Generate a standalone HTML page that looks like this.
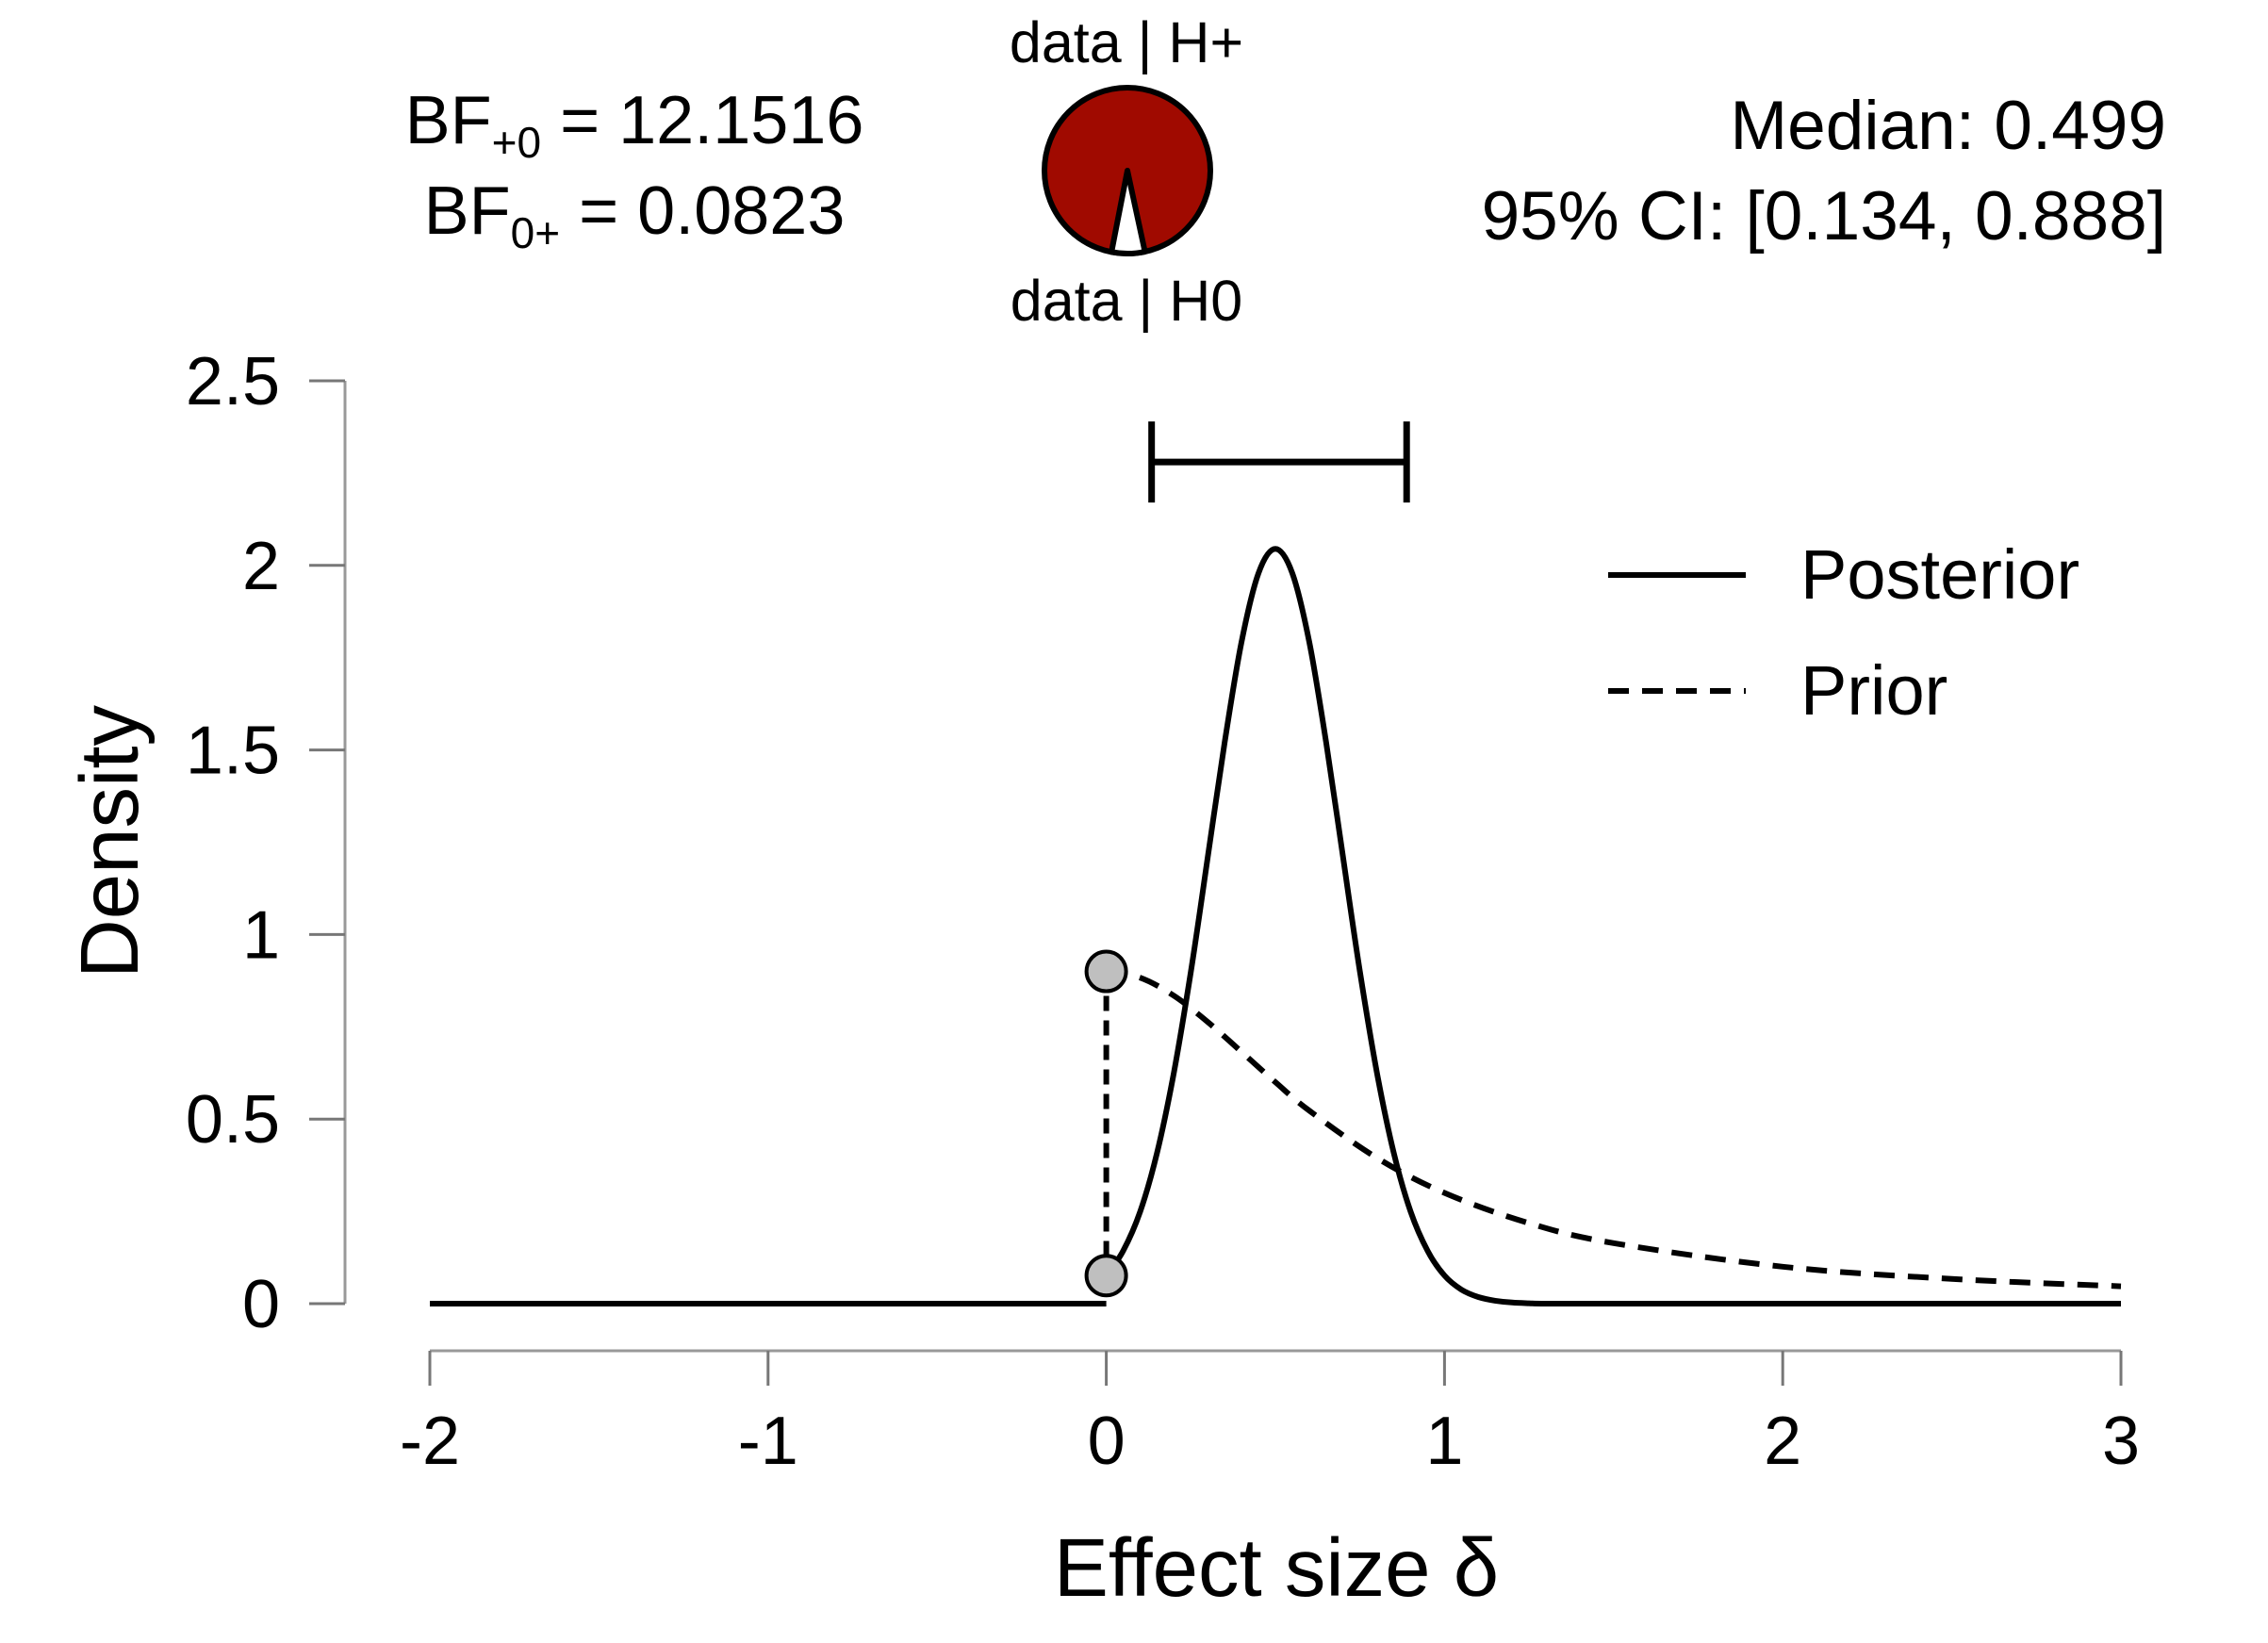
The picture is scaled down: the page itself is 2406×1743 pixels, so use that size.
<!DOCTYPE html>
<html><head><meta charset="utf-8"><style>
html,body{margin:0;padding:0;background:#fff;}
svg{display:block;font-family:"Liberation Sans",Arial,sans-serif;}
</style></head><body>
<svg id="chart" width="2406" height="1743" viewBox="0 0 2406 1743" xmlns="http://www.w3.org/2000/svg">
<rect width="2406" height="1743" fill="#fff"/>
<g id="top">
<text x="673" y="152" font-size="72" text-anchor="middle">BF<tspan font-size="46" dy="15">+0</tspan><tspan dy="-15"> = 12.1516</tspan></text>
<text x="673" y="248" font-size="72" text-anchor="middle">BF<tspan font-size="46" dy="15">0+</tspan><tspan dy="-15"> = 0.0823</tspan></text>
<text x="2298" y="158" font-size="73" text-anchor="end">Median: 0.499</text>
<text x="2298" y="254" font-size="73" text-anchor="end">95% CI: [0.134, 0.888]</text>
<text x="1195" y="66" font-size="61" text-anchor="middle">data | H+</text>
<text x="1195" y="340" font-size="61" text-anchor="middle">data | H0</text>
<g id="pie"></g>
</g>
<g id="axes"></g>
<g id="marks"></g>
<text transform="translate(146,893) rotate(-90)" font-size="87" text-anchor="middle">Density</text>
<text x="1354" y="1693" font-size="87" text-anchor="middle">Effect size δ</text>
<g>
<line x1="1706" y1="610" x2="1852" y2="610" stroke="#000" stroke-width="6"/>
<text x="1910" y="635" font-size="74">Posterior</text>
<line x1="1706" y1="733" x2="1852" y2="733" stroke="#000" stroke-width="6" stroke-dasharray="22,14"/>
<text x="1910" y="758" font-size="74">Prior</text>
</g>
</svg>
<script>
const xTicks=[-2,-1,0,1,2,3];
const yTicks=[0,0.5,1,1.5,2,2.5];
const yTickLabels=["0","0.5","1","1.5","2","2.5"];
const postX=[0,0.05,0.1,0.15,0.2,0.25,0.3,0.35,0.4,0.45,0.5,0.55,0.6,0.65,0.7,0.75,0.8,0.85,0.9,0.95,1.0,1.05,1.1,1.15,1.2,1.25,1.3,1.5,2,2.5,3];
const postY=[0.076,0.143,0.249,0.408,0.627,0.899,1.209,1.521,1.793,1.979,2.045,1.979,1.793,1.521,1.209,0.899,0.627,0.408,0.249,0.143,0.076,0.038,0.018,0.008,0.003,0.001,0,0,0,0,0];
const negX=[-2,0];
const negY=[0,0];
const priorX=[0,0.1,0.2,0.3,0.4,0.5,0.6,0.8,1.0,1.25,1.5,2,2.5,3];
const priorY=[0.90,0.883,0.834,0.763,0.682,0.600,0.523,0.395,0.300,0.218,0.164,0.100,0.067,0.047];
const ciLow=0.134, ciHigh=0.888, ciLevel=2.28;
const pointPrior=0.90, pointPost=0.076;
const bf10=12.1516;

const NS="http://www.w3.org/2000/svg";
const xs=v=>456+(v+2)*358.8;
const ys=v=>1383-v*391.6;
function mk(tag,attrs,parent){const e=document.createElementNS(NS,tag);for(const k in attrs)e.setAttribute(k,attrs[k]);parent.appendChild(e);return e;}
const axes=document.getElementById('axes'), marks=document.getElementById('marks');

let yl=mk('line',{x1:366,y1:ys(2.5),x2:366,y2:ys(0),stroke:'#999','stroke-width':3},axes);


yTicks.forEach((t,i)=>{
 let l=mk('line',{x1:328,y1:ys(t),x2:366,y2:ys(t),stroke:'#777','stroke-width':3},axes);
 
 
 let tx=mk('text',{x:297,y:ys(t)+25,'font-size':72,'text-anchor':'end'},axes);
 tx.textContent=yTickLabels[i];
 
 
});
let xl=mk('line',{x1:xs(-2),y1:1433,x2:xs(3),y2:1433,stroke:'#999','stroke-width':3},axes);


xTicks.forEach(t=>{
 let l=mk('line',{x1:xs(t),y1:1433,x2:xs(t),y2:1470,stroke:'#777','stroke-width':3},axes);
 
 
 let tx=mk('text',{x:xs(t),y:1553,'font-size':72,'text-anchor':'middle'},axes);
 tx.textContent=String(t);
 
 
});
function smooth(X,Y){
 const p=X.map((x,i)=>[xs(x),ys(Y[i])]);
 let d='M'+p[0][0]+','+p[0][1];
 for(let i=0;i<p.length-1;i++){
  const p0=p[Math.max(i-1,0)],p1=p[i],p2=p[i+1],p3=p[Math.min(i+2,p.length-1)];
  let c1=[p1[0]+(p2[0]-p0[0])/6,p1[1]+(p2[1]-p0[1])/6];
  let c2=[p2[0]-(p3[0]-p1[0])/6,p2[1]-(p3[1]-p1[1])/6];
  d+=' C'+c1[0].toFixed(1)+','+c1[1].toFixed(1)+' '+c2[0].toFixed(1)+','+c2[1].toFixed(1)+' '+p2[0].toFixed(1)+','+p2[1].toFixed(1);
 }
 return d;
}
let pr=mk('path',{d:smooth(priorX,priorY),fill:'none',stroke:'#000','stroke-width':6,'stroke-dasharray':'22,14'},marks);


let ng=mk('path',{d:'M'+xs(negX[0])+','+ys(negY[0])+' L'+xs(negX[1])+','+ys(negY[1]),fill:'none',stroke:'#000','stroke-width':6},marks);


let po=mk('path',{d:smooth(postX,postY),fill:'none',stroke:'#000','stroke-width':6},marks);


let vl=mk('line',{x1:xs(0),y1:ys(pointPrior),x2:xs(0),y2:ys(pointPost),stroke:'#000','stroke-width':6,'stroke-dasharray':'16,10'},marks);


let c1=mk('circle',{cx:xs(0),cy:ys(pointPrior),r:21,fill:'#bfbfbf',stroke:'#000','stroke-width':4},marks);


let c2=mk('circle',{cx:xs(0),cy:ys(pointPost),r:21,fill:'#bfbfbf',stroke:'#000','stroke-width':4},marks);


const cy=ys(ciLevel);
let ci=mk('path',{d:`M${xs(ciLow)},${cy} H${xs(ciHigh)} M${xs(ciLow)},${cy-43} V${cy+43} M${xs(ciHigh)},${cy-43} V${cy+43}`,fill:'none',stroke:'#000','stroke-width':7},marks);


const pie=document.getElementById('pie');
const pcx=1196,pcy=181,R=88;
const frac0=1/(1+bf10);
const half=frac0*Math.PI*0.85;
const a1=Math.PI/2-half-0.01,a2=Math.PI/2+half-0.01;
let bg=mk('circle',{cx:pcx,cy:pcy,r:R,fill:'#a00a00',stroke:'#000','stroke-width':6},pie);


const P=a=>[pcx+R*Math.cos(a),pcy+R*Math.sin(a)];
const q1=P(a1),q2=P(a2);
let w=mk('path',{d:`M${pcx},${pcy} L${q1[0]},${q1[1]} A${R},${R} 0 0 1 ${q2[0]},${q2[1]} Z`,fill:'#fff',stroke:'#000','stroke-width':6,'stroke-linejoin':'round'},pie);


</script>
</body></html>
